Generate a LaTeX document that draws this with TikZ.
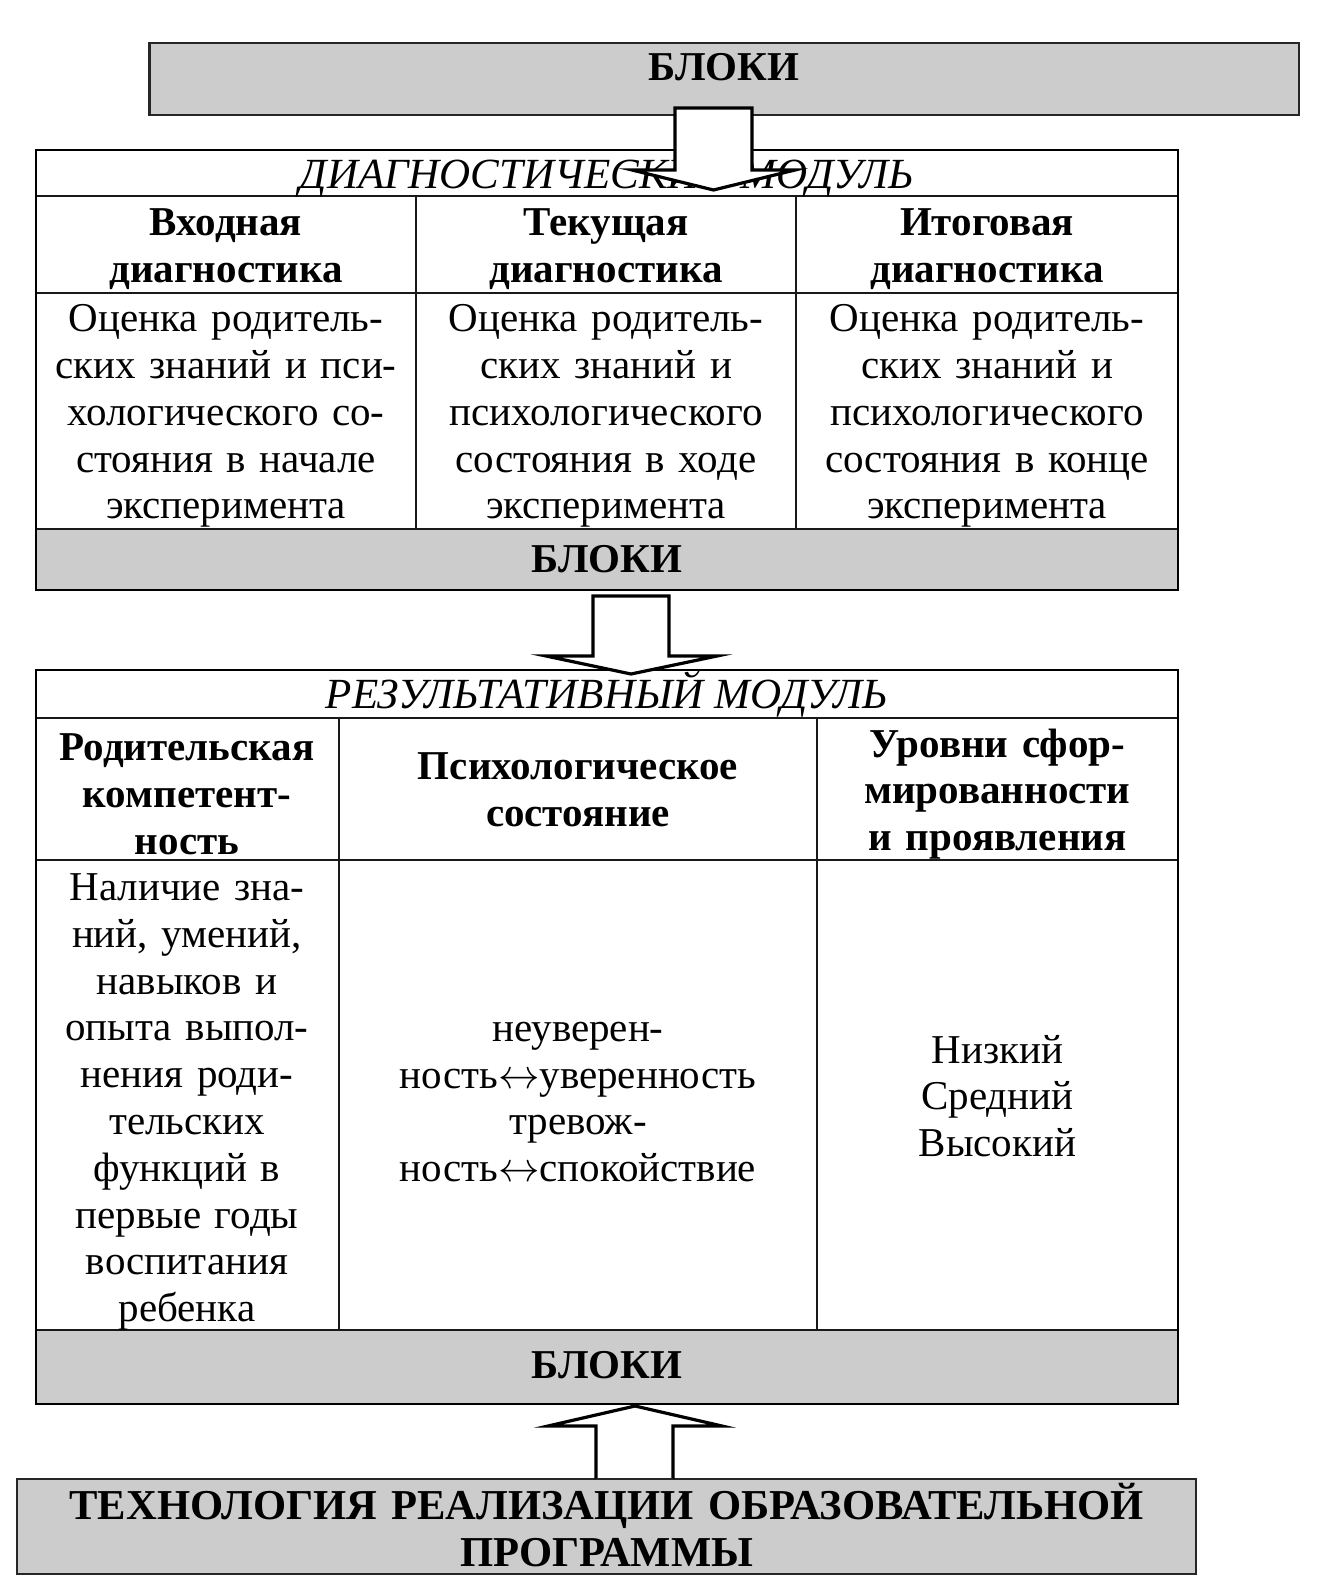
\documentclass[tikz,border=0pt]{standalone}
\usepackage{fontspec}
\setmainfont{Liberation Serif}
\definecolor{blockgray}{HTML}{CCCCCC}
\newcommand\cellfont{\fontsize{20.5}{23.4}\selectfont}
\newcommand\titlefont{\fontsize{21.5}{23.4}\selectfont}
\newcommand\lrarr{\ensuremath{\leftrightarrow}}
\tikzset{
  graybox/.style={fill=blockgray, draw=black!85, line width=1.1pt},
  tableframe/.style={draw=black, line width=1pt},
  tablerule/.style={draw=black!90, line width=0.8pt},
  cell/.style={inner sep=0pt, align=center, font=\cellfont},
  headcell/.style={cell, font=\cellfont\bfseries},
  titlecell/.style={inner sep=0pt, align=center, font=\titlefont\itshape},
  blockarrow/.style={fill=white, draw=black, line width=1.6pt, line join=miter},
}
\begin{document}
\begin{tikzpicture}[x=0.5pt, y=-0.5pt]
\useasboundingbox (0,0) rectangle (1336,1596);

% ---------- top box ----------
\draw[graybox] (149.5,43) rectangle (1299,115);
\node[headcell] (topblocks) at (724,67) {БЛОКИ};

% ---------- diagnostic module ----------
\fill[blockgray] (35.6,529) rectangle (1178,590);
\draw[tablerule] (35.6,196) -- (1178,196);
\draw[tablerule] (35.6,293) -- (1178,293);
\draw[tablerule] (35.6,529) -- (1178,529);
\draw[tablerule] (416,196) -- (416,529);
\draw[tablerule] (796,196) -- (796,529);
\draw[tableframe] (35.6,149.5) rectangle (1178,590);

\node[titlecell] (dtitle) at (607,174) {ДИАГНОСТИЧЕСКИЙ МОДУЛЬ};
\node[headcell, text width=180pt] (dh1) at (226,249) {Входная\\диагностика};
\node[headcell, text width=180pt] (dh2) at (606,249) {Текущая\\диагностика};
\node[headcell, text width=180pt] (dh3) at (987,249) {Итоговая\\диагностика};
\node[cell, text width=185pt] (db1) at (226,416) {Оценка родитель-\\ских знаний и пси-\\хологического со-\\стояния в начале\\эксперимента};
\node[cell, text width=185pt] (db2) at (606,416) {Оценка родитель-\\ских знаний и\\психологического\\состояния в ходе\\эксперимента};
\node[cell, text width=185pt] (db3) at (987,416) {Оценка родитель-\\ских знаний и\\психологического\\состояния в конце\\эксперимента};
\node[headcell] (dblocks) at (607,559) {БЛОКИ};

% ---------- result module ----------
\fill[blockgray] (35.6,1330) rectangle (1178,1404);
\draw[tablerule] (35.6,718) -- (1178,718);
\draw[tablerule] (35.6,860) -- (1178,860);
\draw[tablerule] (35.6,1330) -- (1178,1330);
\draw[tablerule] (339,718) -- (339,1330);
\draw[tablerule] (817,718) -- (817,1330);
\draw[tableframe] (35.6,670) rectangle (1178,1404);

\node[titlecell] (rtitle) at (607,694) {РЕЗУЛЬТАТИВНЫЙ МОДУЛЬ};
\node[headcell, text width=150pt] (rh1) at (187,794) {Родительская\\компетент-\\ность};
\node[headcell, text width=230pt] (rh2) at (578,790) {Психологическое\\состояние};
\node[headcell, text width=175pt] (rh3) at (997.5,794) {Уровни сфор-\\мированности\\и проявления};
\node[cell, text width=150pt] (rb1) at (187,1102) {Наличие зна-\\ний, умений,\\навыков и\\опыта выпол-\\нения роди-\\тельских\\функций в\\первые годы\\воспитания\\ребенка};
\node[cell, text width=230pt] (rb2) at (578,1102) {неуверен-\\ность\lrarr уверенность\\тревож-\\ность\lrarr спокойствие};
\node[cell, text width=175pt] (rb3) at (997.5,1096) {Низкий\\Средний\\Высокий};
\node[headcell] (rblocks) at (607,1365) {БЛОКИ};

% ---------- bottom box ----------
\draw[graybox] (17.3,1479) rectangle (1196,1574);
\node[cell, font=\fontsize{21.3}{23.4}\selectfont\bfseries, text width=590pt] (tech) at (606.7,1525) {ТЕХНОЛОГИЯ РЕАЛИЗАЦИИ ОБРАЗОВАТЕЛЬНОЙ\\ПРОГРАММЫ};

% ---------- block arrows ----------
\draw[blockarrow] (675,108) -- (752,108) -- (752,170) -- (795,170) -- (713.5,190)
  -- (632,170) -- (675,170) -- cycle;
\draw[blockarrow] (593,596) -- (669,596) -- (669,656) -- (717,656) -- (631,674)
  -- (546,656) -- (593,656) -- cycle;
\draw[blockarrow] (596,1479) -- (596,1426) -- (548,1426) -- (635,1406)
  -- (722,1426) -- (673,1426) -- (673,1479);
\draw[graybox, fill=none] (596,1479) -- (673,1479);
\end{tikzpicture}
\end{document}
